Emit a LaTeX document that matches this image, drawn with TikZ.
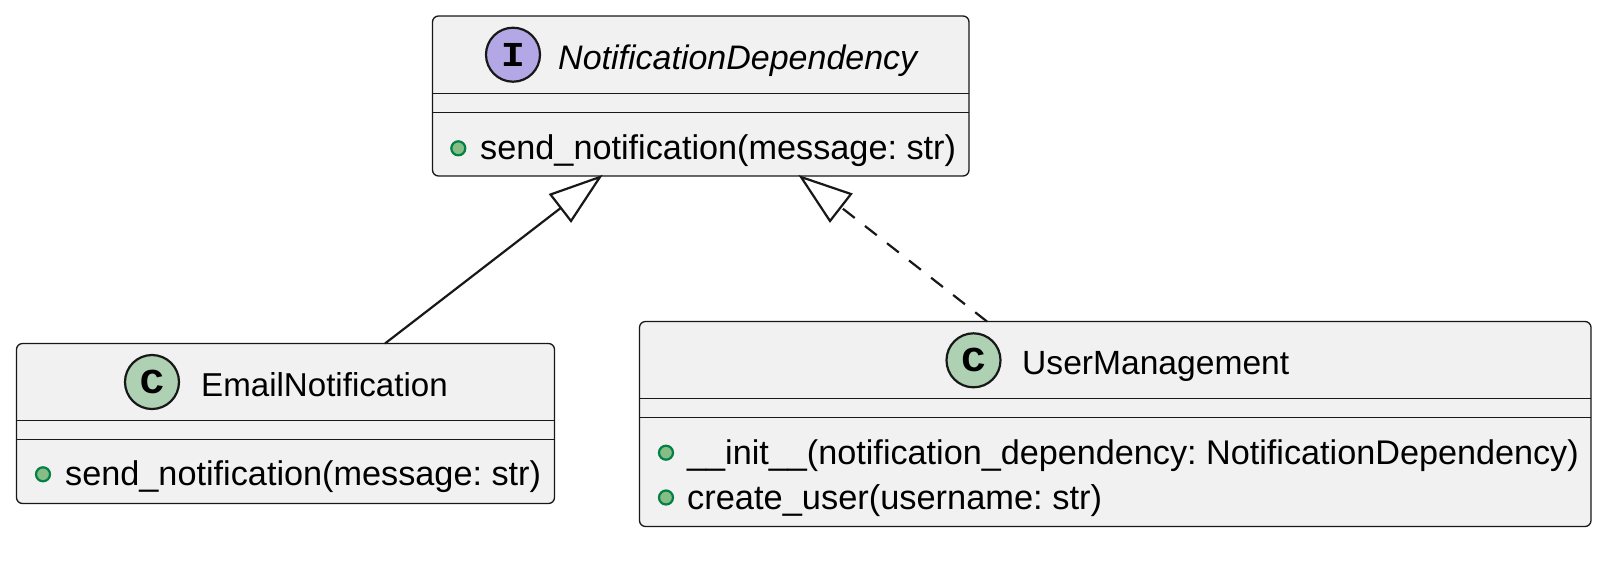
\documentclass[tikz,border=0pt]{standalone}
\usepackage{fontspec}
\setmainfont{Liberation Sans}
\setmonofont[FakeStretch=1.15]{Liberation Mono}
\definecolor{boxfill}{HTML}{F1F1F1}
\definecolor{boxline}{HTML}{181818}
\definecolor{cfill}{HTML}{ADD1B2}
\definecolor{ifill}{HTML}{B4A7E5}
\definecolor{dotfill}{HTML}{84BE84}
\definecolor{dotline}{HTML}{038048}
\tikzset{
  classbox/.style={draw=boxline,fill=boxfill,line width=1.3pt,rounded corners=6pt},
  sep/.style={draw=boxline,line width=1.3pt},
  badge/.style={circle,draw=boxline,line width=2.2pt,minimum size=54pt,inner sep=0pt,font=\fontsize{35}{35}\selectfont\ttfamily\bfseries},
  dot/.style={circle,draw=dotline,fill=dotfill,line width=2.2pt,minimum size=14pt,inner sep=0pt},
  label/.style={inner sep=0pt,anchor=base west,font=\frenchspacing\fontsize{34.25}{36}\selectfont,text=black},
  rel/.style={draw=boxline,line width=2.2pt},
  headtri/.style={draw=boxline,fill=white,line width=2.2pt,line join=miter},
}
\begin{document}
\begin{tikzpicture}[x=1pt,y=-1pt]
\useasboundingbox (0,0) rectangle (1606,566);
% boxes
\path[classbox] (432.5,16) rectangle (969,176);
\path[classbox] (16.5,343.5) rectangle (554.5,503.5);
\path[classbox] (639.5,321.5) rectangle (1591,526.5);
\draw[sep] (433,93.3) -- (969,93.3);
\draw[sep] (433,112.3) -- (969,112.3);
\draw[sep] (17,420.5) -- (554,420.5);
\draw[sep] (17,439.5) -- (554,439.5);
\draw[sep] (640,398.5) -- (1591,398.5);
\draw[sep] (640,417.5) -- (1591,417.5);
% badges
\node[badge,fill=ifill] (bi) at (513,54.7) {I};
\node[badge,fill=cfill] (be) at (152,382) {C};
\node[badge,fill=cfill] (bu) at (973.5,360.3) {C};
% titles
\node[label,font=\fontsize{34}{36}\selectfont\itshape] (t1) at (558,69) {NotificationDependency};
\node[label,font=\fontsize{33.1}{36}\selectfont] (t2) at (201,396) {EmailNotification};
\node[label,font=\fontsize{33.6}{36}\selectfont] (t3) at (1022,374) {UserManagement};
% members
\node[dot] (d1) at (458.3,148.3) {};
\node[label] (m1) at (480,159.5) {send\_notification(message: str)};
\node[dot] (d2) at (43,474.3) {};
\node[label] (m2) at (65,485.5) {send\_notification(message: str)};
\node[dot] (d3) at (666,452.7) {};
\node[label,font=\frenchspacing\fontsize{34.2}{36}\selectfont] (m3) at (687,464.5) {\_\_init\_\_(notification\_dependency: NotificationDependency)};
\node[dot] (d4) at (666,497.5) {};
\node[label,font=\frenchspacing\fontsize{34.4}{36}\selectfont] (m4) at (687,509) {create\_user(username: str)};
% relations
\coordinate (a1) at (600,177);
\coordinate (a2) at (801,177);
\coordinate (e1) at (385,343.5);
\coordinate (e2) at (987,321.5);
\draw[rel] (e1) -- (562,207);
\draw[headtri] (a1) -- (550.5,194.5) -- (571,221) -- cycle;
\draw[rel,dash pattern=on 15pt off 13pt] (e2) -- (842,208);
\draw[headtri] (a2) -- (851,194) -- (830,221) -- cycle;
\end{tikzpicture}
\end{document}
